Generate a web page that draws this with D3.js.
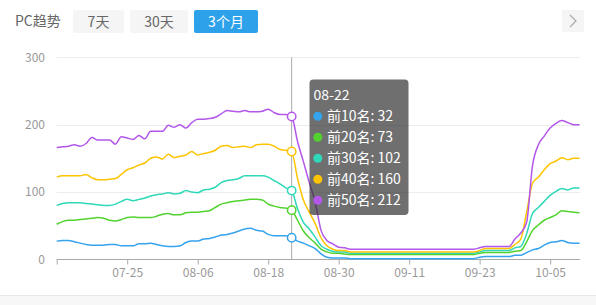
<!DOCTYPE html>
<html>
<head>
<meta charset="utf-8">
<script src="https://cdn.jsdelivr.net/npm/d3@7"></script>
<style>
  body { margin: 0; background: #fff; }
  svg { display: block; font-family: "Noto Sans CJK SC", "Noto Sans", sans-serif; }
</style>
</head>
<body>
<script>
// categories: one point per day, 07-13 .. 10-10
var dates = d3.timeDay.range(new Date(2019, 6, 13), new Date(2019, 9, 11))
  .map(d3.timeFormat("%m-%d"));
var tickLabels = ["07-25", "08-06", "08-18", "08-30", "09-11", "09-23", "10-05"];
var yTicks = [0, 100, 200, 300];
var rangeButtons = ["7天", "30天", "3个月"];
var seriesNames = ["前10名", "前20名", "前30名", "前40名", "前50名"];
var seriesColors = ["#35a3ee", "#52d22e", "#2ed8b8", "#fec402", "#b357ea"];
var hoverDate = "08-22";

// values
var top10 = [27,28,28,26,24,22,21,21,21,22,22,20,20,20,23,23,24,22,20,19,19,20,25,27,27,30,31,33,36,37,39,42,45,46,43,42,37,35,35,35,32,
  27,24,20,16,8,3,2,2,2,
  1,1,1,1,1,1,1,1,1,1,1,1,1,1,1,1,1,1,1,1,1,1,
  3,4,4,4,4,4,6,6,10,14,16,21,25,26,28,25,24,24];
var top20 = [52,56,58,58,59,60,61,62,61,58,57,59,62,63,62,62,62,64,67,68,66,66,69,70,70,71,72,77,82,84,86,87,88,89,89,88,82,79,77,76,73,
  58,42,32,24,15,11,9,9,8,
  7,7,7,7,7,7,7,7,7,7,7,7,7,7,7,7,7,7,7,7,7,7,
  9,10,10,10,10,10,12,13,26,43,51,58,62,66,72,71,70,69];
var top30 = [80,83,84,84,84,83,82,81,80,80,82,86,89,87,89,91,94,96,97,99,97,98,102,100,99,103,104,107,114,117,118,120,124,124,124,124,122,117,112,106,102,
  75,55,45,33,20,15,12,11,11,
  9,9,9,9,9,9,9,9,9,9,9,9,9,9,9,9,9,9,9,9,9,9,
  11,13,13,13,13,13,17,19,38,68,77,86,95,101,105,103,106,106];
var top40 = [122,124,124,124,124,126,121,118,118,119,120,126,133,136,140,143,150,152,149,156,151,153,155,160,155,157,159,162,168,169,166,167,168,166,170,171,171,168,163,162,160,
  120,88,70,53,32,20,15,13,13,
  11,11,11,11,11,11,11,11,11,11,11,11,11,11,11,11,11,11,11,11,11,11,
  13,16,16,16,16,16,22,30,70,113,122,133,142,146,151,148,150,150];
var top50 = [166,167,168,170,168,172,181,177,177,177,171,182,180,178,184,179,190,190,190,199,196,200,195,203,208,208,209,211,216,221,220,219,221,219,219,220,223,218,215,215,212,
  175,145,114,85,43,28,23,18,17,
  15,15,15,15,15,15,15,15,15,15,15,15,15,15,15,15,15,15,15,15,15,15,
  17,19,19,19,19,19,30,39,55,139,170,183,195,202,206,203,200,200];

var allSeries = [top10, top20, top30, top40, top50];

var W = 596, H = 305;
var svg = d3.select("body").append("svg").attr("width", W).attr("height", H);

// header
svg.append("text").attr("x", 15).attr("y", 26)
  .attr("font-size", 14).attr("fill", "#666").text("PC趋势");

var btns = [{x: 73, w: 51}, {x: 130, w: 58}, {x: 194, w: 64}];
btns.forEach(function(b, i) {
  var active = i === 2;
  svg.append("rect").attr("x", b.x).attr("y", 10).attr("width", b.w).attr("height", 23)
    .attr("rx", 2).attr("fill", active ? "#2ea1eb" : "#f5f5f5");
  svg.append("text").attr("x", b.x + b.w / 2).attr("y", 26.5)
    .attr("text-anchor", "middle").attr("font-size", 14)
    .attr("fill", active ? "#fff" : "#666").text(rangeButtons[i]);
});

// next arrow
svg.append("rect").attr("x", 562).attr("y", 10).attr("width", 22).attr("height", 22).attr("fill", "#f5f5f5");
svg.append("path").attr("d", "M570,15L576,21L570,27").attr("fill", "none")
  .attr("stroke", "#aaa").attr("stroke-width", 1.2);

// footer strip
svg.append("rect").attr("x", 0).attr("y", 295).attr("width", W).attr("height", 10).attr("fill", "#f7f7f7");
svg.append("line").attr("x1", 0).attr("x2", W).attr("y1", 295.5).attr("y2", 295.5).attr("stroke", "#e8e8e8");

// scales
var x = d3.scalePoint().domain(dates).range([56.7, 579.5]);
var y = d3.scaleLinear().domain([0, 300]).range([259.3, 57.3]);

// grid
svg.append("g").selectAll("line").data(yTicks.slice(1)).enter().append("line")
  .attr("x1", 56.7).attr("x2", 580).attr("y1", d => Math.round(y(d)) + 0.5).attr("y2", d => Math.round(y(d)) + 0.5)
  .attr("stroke", "#ececec");

// y labels
svg.append("g").selectAll("text").data(yTicks).enter().append("text")
  .attr("x", 45).attr("y", d => y(d) + 4.5).attr("text-anchor", "end")
  .attr("font-size", 12).attr("fill", "#999").text(d => d);

// x axis
var xAxis = d3.axisBottom(x)
  .tickValues([dates[0]].concat(tickLabels))
  .tickFormat(d => d === dates[0] ? "" : d)
  .tickSize(5).tickSizeOuter(0);
var gx = svg.append("g").attr("transform", "translate(0," + (Math.round(y(0)) + 0.5) + ")").call(xAxis);
gx.select(".domain").attr("stroke", "#aaa").attr("d", "M56.7,0H580");
gx.selectAll(".tick line").attr("stroke", "#aaa");
gx.selectAll(".tick text").attr("fill", "#999").attr("font-size", 12)
  .attr("font-family", "Noto Sans CJK SC, Noto Sans, sans-serif").attr("dy", "0.95em").attr("y", 6);

// hover line
var hx = x(hoverDate);
svg.append("line").attr("x1", hx).attr("x2", hx).attr("y1", y(300)).attr("y2", y(0))
  .attr("stroke", "#aaa").attr("stroke-width", 1);

// lines
var line = d3.line()
  .x((d, i) => x(dates[i]))
  .y(d => y(d))
  .curve(d3.curveMonotoneX);

allSeries.forEach(function(s, k) {
  svg.append("path").datum(s).attr("d", line)
    .attr("fill", "none").attr("stroke", seriesColors[k]).attr("stroke-width", 1.5);
});

// hover points
var hi = dates.indexOf(hoverDate);
allSeries.forEach(function(s, k) {
  svg.append("circle").attr("cx", hx).attr("cy", y(s[hi])).attr("r", 4.2)
    .attr("fill", "#fff").attr("stroke", seriesColors[k]).attr("stroke-width", 1.5);
});

// tooltip
var tip = svg.append("g").attr("transform", "translate(309.5,79.5)");
tip.append("rect").attr("width", 99).attr("height", 135.5).attr("rx", 4)
  .attr("fill", "rgba(50,50,50,0.7)");
tip.append("text").attr("x", 4).attr("y", 20.5).attr("font-size", 14)
  .attr("fill", "#fff").text(hoverDate);
seriesNames.forEach(function(n, k) {
  var by = 41.5 + k * 21;
  tip.append("circle").attr("cx", 8.3).attr("cy", by - 4.8).attr("r", 4.5).attr("fill", seriesColors[k]);
  tip.append("text").attr("x", 17.5).attr("y", by).attr("font-size", 14)
    .attr("fill", "#fff").text(n + ": " + allSeries[k][hi]);
});
</script>
</body>
</html>
